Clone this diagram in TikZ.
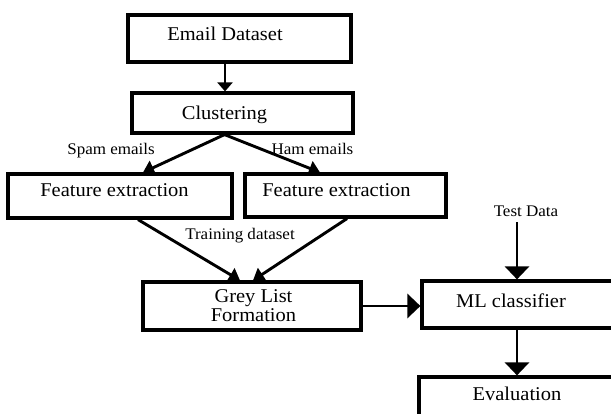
\documentclass[tikz,border=0pt]{standalone}
\usepackage{fontspec}
\setmainfont[FakeStretch=1.05]{Liberation Serif}
\usetikzlibrary{arrows.meta}

\tikzset{
  box/.style={draw, line width=3.2pt, rectangle, inner sep=0pt},
  big/.style={anchor=base, inner sep=0pt, font=\fontsize{19.5}{19}\selectfont},
  small/.style={anchor=base, inner sep=0pt, font=\fontsize{16.2}{17}\selectfont},
  link/.style={line width=2.9pt},
  arrs/.style={link, -{Triangle[length=9pt,width=15pt]}},
  arrm/.style={link, -{Triangle[length=11pt,width=15pt]}},
  arrb/.style={link, -{Triangle[length=13pt,width=24pt]}},
}

\begin{document}
\begin{tikzpicture}[x=1pt, y=-1pt]
  \clip (0,0) rectangle (611,414);
  \fill[white] (0,0) rectangle (611,414);

  % boxes
  \node[box, minimum width=223pt, minimum height=47pt] (ed)  at (239.5,38.5) {};
  \node[box, minimum width=221pt, minimum height=40pt] (cl)  at (242.5,113) {};
  \node[box, minimum width=224pt, minimum height=44pt] (fe1) at (120,196) {};
  \node[box, minimum width=201pt, minimum height=43pt] (fe2) at (345.5,195.5) {};
  \node[box, minimum width=218pt, minimum height=48pt] (gl)  at (252,306) {};
  \node[box, minimum width=228pt, minimum height=47pt] (ml)  at (536,304.5) {};
  \node[box, minimum width=231pt, minimum height=68pt] (ev)  at (534.5,411) {};

  % box texts
  \node[big] (edt) at (225,40.7) {Email Dataset};
  \node[big] (clt) at (224.5,120) {Clustering};
  \node[big] (f1t) at (114.5,196.7) {Feature extraction};
  \node[big] (f2t) at (336.5,197) {Feature extraction};
  \node[anchor=center, inner sep=0pt, align=center,
        font=\fontsize{19.5}{19}\selectfont] (glt) at (253.5,306) {Grey List\\Formation};
  \node[big] (mlt) at (511,308) {ML classifier};
  \node[big] (evt) at (517,400) {Evaluation};

  % edge labels
  \node[small] (spam)  at (111,155) {Spam emails};
  \node[small] (ham)   at (312.5,155) {Ham emails};
  \node[small] (train) at (240,240) {Training dataset};
  \node[small] (td)    at (526,216.7) {Test Data};

  % connectors
  \draw[arrs] (ed.south -| edt) -- (cl.north -| edt);
  \draw[arrm] (cl.south -| clt) -- ([xshift=23pt]fe1.north);
  \draw[arrm] (cl.south -| clt) -- ([xshift=-25.5pt]fe2.north);
  \draw[arrm] ([xshift=18pt]fe1.south) -- ([xshift=-12pt]gl.north);
  \draw[arrm] ([xshift=1.5pt]fe2.south) -- ([xshift=1pt]gl.north);
  \draw[arrb] (gl.east) -- (gl.east -| ml.west);
  \draw[arrb, shorten <=5pt] (td.south -| evt) -- (ml.north -| evt);
  \draw[arrb] (ml.south -| evt) -- (ev.north -| evt);
\end{tikzpicture}
\end{document}
